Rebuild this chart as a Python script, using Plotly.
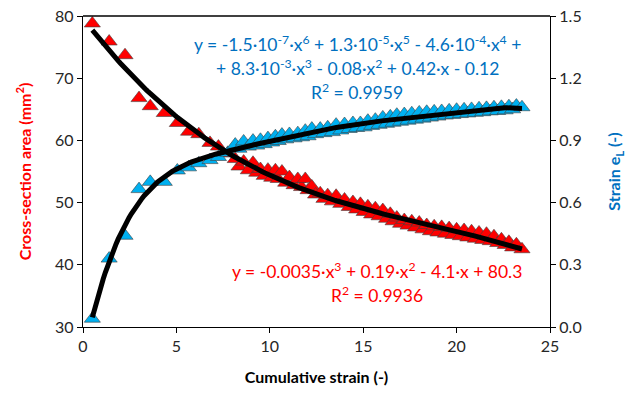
import numpy as np
import plotly.graph_objects as go

# Cumulative strain (shared x for both series)
strain = [0.5, 1.4, 2.25, 3.0, 3.6, 4.35, 5.05, 5.65, 6.2, 6.8, 7.25, 7.75,
          8.15, 8.35, 8.6, 8.85, 9.1, 9.3, 9.5, 9.7, 9.9, 10.1, 10.3, 10.45,
          10.65, 10.85, 11.05, 11.3, 11.5, 11.7, 11.9, 12.05, 12.25, 12.45,
          12.7, 12.9, 13.1, 13.35, 13.55, 13.8, 14.0, 14.25, 14.45, 14.65,
          14.85, 15.05, 15.25, 15.45, 15.65, 15.85, 16.05, 16.25, 16.45, 16.6,
          16.8, 17.0, 17.2, 17.4, 17.6, 17.8, 18.0, 18.2, 18.4, 18.6, 18.8,
          19.0, 19.2, 19.4, 19.6, 19.8, 20.0, 20.2, 20.4, 20.6, 20.8, 21.0,
          21.2, 21.4, 21.6, 21.8, 22.0, 22.2, 22.4, 22.6, 22.8, 23.0, 23.2, 23.5]

# Cross-section area (mm^2)
area = [78.8, 75.9, 73.7, 66.8, 65.5, 64.4, 62.8, 61.4, 61.0, 59.6, 59.0, 57.9,
        57.0, 55.8, 56.6, 55.2, 56.4, 54.8, 55.4, 54.3, 55.3, 54.0, 55.2, 53.8,
        55.0, 53.2, 54.1, 52.8, 53.8, 52.5, 53.8, 52.0, 52.6, 51.3,
        51.5, 50.6, 51.2, 50.2, 51.1, 49.8, 50.5, 49.3, 50.1, 48.9,
        49.8, 48.5, 49.4, 48.1, 49.1, 47.8, 48.8, 47.4, 48.2, 47.0,
        47.6, 46.6, 47.2, 46.3, 47.0, 46.0, 46.8, 45.7, 46.4, 45.4, 46.2,
        45.2, 46.1, 45.0, 45.9, 44.8, 45.7, 44.6, 45.6, 44.4, 45.4, 44.2,
        45.2, 44.0, 45.0, 43.8, 44.6, 43.5, 44.1, 43.2, 43.7, 42.8, 43.3, 42.5]

# Strain e_L (-)
strain_el = [0.04, 0.33, 0.44, 0.665, 0.70, 0.70, 0.755, 0.77, 0.79, 0.805, 0.82, 0.84,
             0.88, 0.86, 0.895, 0.87, 0.899, 0.875, 0.903, 0.882, 0.911, 0.89, 0.92, 0.897,
             0.928, 0.905, 0.931, 0.91, 0.935, 0.915, 0.947, 0.92, 0.957, 0.93,
             0.957, 0.935, 0.963, 0.94, 0.976, 0.948, 0.979, 0.955, 0.984, 0.96,
             0.984, 0.963, 0.995, 0.97, 1.0, 0.975, 1.011, 0.98, 1.016, 0.985,
             1.024, 0.99, 1.027, 0.995, 1.031, 1.0, 1.035, 1.005, 1.038, 1.01, 1.04,
             1.015, 1.042, 1.02, 1.045, 1.023, 1.048, 1.027, 1.05, 1.03, 1.052, 1.033,
             1.055, 1.036, 1.057, 1.04, 1.06, 1.042, 1.062, 1.045, 1.065, 1.05, 1.068, 1.06]

eq_blue = ["y = -1.5·10<sup>-7</sup>·x<sup>6</sup> + 1.3·10<sup>-5</sup>·x<sup>5</sup> - 4.6·10<sup>-4</sup>·x<sup>4</sup> +",
           "+ 8.3·10<sup>-3</sup>·x<sup>3</sup> - 0.08·x<sup>2</sup> + 0.42·x - 0.12",
           "R<sup>2</sup> = 0.9959"]
eq_red = ["y = -0.0035·x<sup>3</sup> + 0.19·x<sup>2</sup> - 4.1·x + 80.3",
          "R<sup>2</sup> = 0.9936"]

RED = "#FF0000"
BLUE_FILL = "#00B0F0"
BLUE_TEXT = "#0070C0"
FONT = "Lato"

x = np.array(strain)
xs = np.linspace(min(strain), max(strain), 200)
fit_red = np.polyval(np.polyfit(x, np.array(area), 3), xs)
fit_blue = np.polyval(np.polyfit(x, np.array(strain_el), 6), xs)

marker_line = dict(color="#404040", width=0.6)
fig = go.Figure()
fig.add_trace(go.Scatter(x=strain, y=area, mode="markers", yaxis="y",
                         marker=dict(symbol="triangle-up", size=14, color=RED, line=marker_line)))
fig.add_trace(go.Scatter(x=strain, y=strain_el, mode="markers", yaxis="y2",
                         marker=dict(symbol="triangle-up", size=14, color=BLUE_FILL, line=marker_line)))
fig.add_trace(go.Scatter(x=xs, y=fit_blue, mode="lines", yaxis="y2",
                         line=dict(color="black", width=5)))
fig.add_trace(go.Scatter(x=xs, y=fit_red, mode="lines", yaxis="y3",
                         line=dict(color="black", width=5)))

axis_common = dict(showline=True, linecolor="black", linewidth=1.3, ticks="outside",
                   ticklen=5, tickcolor="black", showgrid=False, zeroline=False,
                   automargin=False, ticklabeloverflow="allow",
                   tickfont=dict(family=FONT, size=16, color="#262626"))

fig.update_layout(
    width=638, height=396,
    margin=dict(l=83, r=88, t=16, b=69),
    paper_bgcolor="white", plot_bgcolor="white",
    showlegend=False,
    font=dict(family=FONT),
    xaxis=dict(range=[0, 25], dtick=5, **axis_common,
               title=dict(text="<b>Cumulative strain (-)</b>",
                          font=dict(family=FONT, size=16, color="black"), standoff=17)),
    yaxis=dict(range=[30, 80], dtick=10, **axis_common,
               title=dict(text="<b>Cross-section area (mm<sup>2</sup>)</b>",
                          font=dict(family=FONT, size=16, color=RED), standoff=19)),
    yaxis2=dict(range=[0, 1.5], dtick=0.3, tickformat=".1f", overlaying="y", side="right",
                **axis_common,
                title=dict(text="<b>Strain e<sub>L</sub> (-)</b>",
                           font=dict(family=FONT, size=16, color=BLUE_TEXT), standoff=28)),
    yaxis3=dict(range=[30, 80], overlaying="y", visible=False),
    shapes=[dict(type="line", xref="paper", yref="paper", x0=0, x1=1, y0=1, y1=1,
                 line=dict(color="black", width=1.3))],
)

def px_to_paper(px, py):
    return (px - 83) / 467, (327 - py) / 311

for txt, (cx, cy) in zip(eq_blue, [(357, 43), (357, 67), (357, 91)]):
    ax_, ay_ = px_to_paper(cx, cy)
    fig.add_annotation(text=txt, x=ax_, y=ay_, xref="paper", yref="paper",
                       xanchor="center", yanchor="middle", showarrow=False,
                       font=dict(family=FONT, size=17.5, color=BLUE_TEXT))
for txt, (cx, cy) in zip(eq_red, [(377, 270), (377, 294)]):
    ax_, ay_ = px_to_paper(cx, cy)
    fig.add_annotation(text=txt, x=ax_, y=ay_, xref="paper", yref="paper",
                       xanchor="center", yanchor="middle", showarrow=False,
                       font=dict(family=FONT, size=17.5, color=RED))

fig.write_html("out.html", config={"displayModeBar": False},
               post_script="document.body.style.margin='0px';document.body.style.overflow='hidden';")
